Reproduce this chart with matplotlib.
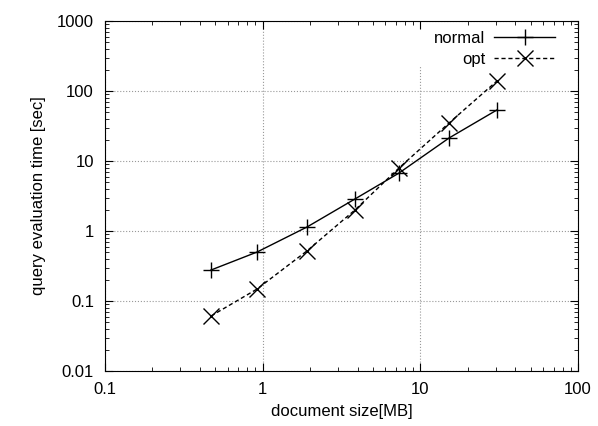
import numpy as np
import matplotlib
matplotlib.use('Agg')
import matplotlib.pyplot as plt

plt.rcParams['font.family'] = ['Liberation Sans', 'DejaVu Sans']
plt.rcParams['font.size'] = 12

# data
size_mb = [0.47, 0.92, 1.91, 3.85, 7.3, 15.2, 30.6]
normal = [0.277, 0.50, 1.14, 2.87, 6.7, 21.3, 53.6]
opt = [0.061, 0.148, 0.52, 2.0, 7.9, 34.9, 139]

fig = plt.figure(figsize=(5.98, 4.26), dpi=100)
ax = fig.add_axes([0.1756, 0.1291, 0.7910, 0.8216])

ax.plot(size_mb, normal, color='k', lw=1.0, marker='+', ms=12, mew=1.0, label='normal')
ax.plot(size_mb, opt, color='k', lw=1.0, dashes=(3, 2), marker='x', ms=12, mew=1.0, label='opt')

ax.set_xscale('log')
ax.set_yscale('log')
ax.set_xlim(0.1, 100)
ax.set_ylim(0.01, 1000)
ax.set_xticks([0.1, 1, 10, 100])
ax.set_xticklabels(['0.1', '1', '10', '100'])
ax.set_yticks([0.01, 0.1, 1, 10, 100, 1000])
ax.set_yticklabels(['0.01', '0.1', '1', '10', '100', '1000'])
ax.tick_params(which='both', direction='in', top=True, right=True)
ax.tick_params(which='major', length=6, pad=8)
ax.tick_params(which='minor', length=3)
ax.grid(True, which='major', color='#999999', linestyle=':', linewidth=0.8)
ax.set_axisbelow(True)

# the key area blanks the top of the x=10 grid line
for tick in ax.xaxis.get_major_ticks():
    if abs(tick.get_loc() - 10) < 1e-9:
        tick.gridline.set_ydata([0, 0.875])

ax.set_xlabel('document size[MB]', labelpad=5)
ax.set_ylabel('query evaluation time [sec]', labelpad=8)

leg = ax.legend(loc='upper right', bbox_to_anchor=(0.977, 1.006),
                markerfirst=False, handlelength=3.7,
                frameon=True, fancybox=False, borderaxespad=0.4,
                borderpad=0.3, handletextpad=0.5, labelspacing=0.4)
leg.get_frame().set_facecolor('white')
leg.get_frame().set_edgecolor('none')
leg.get_frame().set_alpha(1)
for t in leg.get_texts():
    t.set_ha('right')

fig.savefig('out.png', dpi=100)
